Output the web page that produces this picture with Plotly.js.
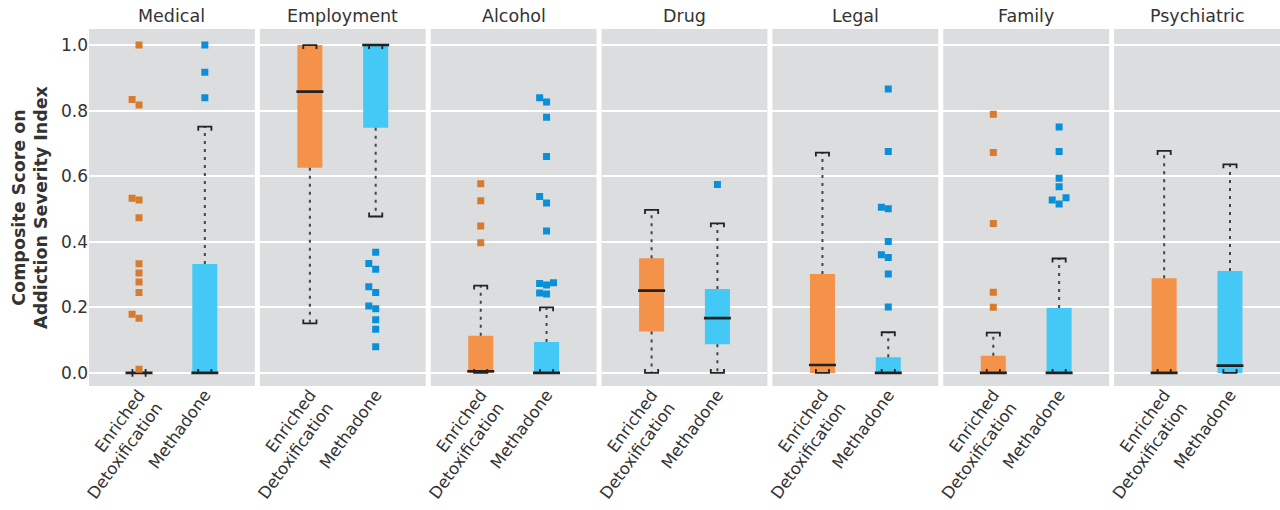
<!DOCTYPE html>
<html><head><meta charset="utf-8">
<script src="https://cdn.plot.ly/plotly-3.0.1.min.js"></script>
<style>html,body{margin:0;padding:0;background:#fff}#chart{width:1280px;height:510px}</style>
</head><body><div id="chart"></div>
<script>
// ---------- data ----------
const panels = ["Medical","Employment","Alcohol","Drug","Legal","Family","Psychiatric"];
const groupLabels = ["Enriched<br>Detoxification","Methadone"];

// Enriched Detoxification box statistics (one value per panel)
const enrLower  = [0,     0.151, 0,     0,     0,     0,     0];
const enrQ1     = [0,     0.626, 0,     0.126, 0,     0,     0];
const enrMedian = [0,     0.858, 0.005, 0.251, 0.024, 0,     0];
const enrQ3     = [0,     1.0,   0.113, 0.350, 0.302, 0.052, 0.289];
const enrUpper  = [0,     1.0,   0.266, 0.497, 0.672, 0.123, 0.677];

// Methadone box statistics
const metLower  = [0,     0.477, 0,     0,      0,     0,     0];
const metQ1     = [0,     0.748, 0,     0.0875, 0,     0,     0];
const metMedian = [0,     1.0,   0,     0.167,  0,     0,     0.022];
const metQ3     = [0.332, 1.0,   0.094, 0.256,  0.048, 0.198, 0.311];
const metUpper  = [0.751, 1.0,   0.200, 0.456,  0.124, 0.349, 0.636];

// Outliers
const enrOutliers = [
  [1.0, 0.834, 0.817, 0.533, 0.527, 0.473, 0.333, 0.305, 0.277, 0.245, 0.179, 0.167, 0.011],
  [],
  [0.577, 0.525, 0.448, 0.397],
  [],
  [],
  [0.789, 0.672, 0.456, 0.246, 0.200],
  []
];
const metOutliers = [
  [1.0, 0.917, 0.839],
  [0.368, 0.334, 0.316, 0.263, 0.245, 0.204, 0.196, 0.162, 0.133, 0.080],
  [0.839, 0.826, 0.780, 0.660, 0.538, 0.518, 0.433, 0.275, 0.273, 0.268, 0.244, 0.241],
  [0.575],
  [0.866, 0.675, 0.505, 0.501, 0.401, 0.360, 0.352, 0.302, 0.201],
  [0.750, 0.675, 0.594, 0.568, 0.534, 0.527, 0.515],
  []
];

// ---------- styling ----------
const boxColors = ["#f5924a", "#44c8f5"];
const pointColors = ["#d97b2c", "#0a90d8"];
const FONT = "DejaVu Sans";
const TXT = "#333333";
const BOXW = 0.38, CAPW = 0.1, MEDW = 0.205, TICKH = 0.012;
const STEP = 0.105, MINDY = 0.022;

function swarm(vals, cx) {
  const sorted = vals.slice().sort((a,b)=>a-b);
  const placed = [];
  const cands = [0,-1,1,-2,2,-3,3];
  for (const v of sorted) {
    for (const c of cands) {
      const x = cx + c*STEP;
      const clash = placed.some(p => Math.abs(p.x - x) < STEP*0.9 && Math.abs(p.y - v) < MINDY);
      if (!clash) { placed.push({x:x, y:v}); break; }
    }
  }
  return placed;
}

const traces = [];
const layout = {
  width: 1280, height: 510,
  margin: {l: 89, r: 0, t: 29, b: 124},
  paper_bgcolor: "#ffffff",
  plot_bgcolor: "#dcdddf",
  showlegend: false,
  font: {family: FONT, size: 17, color: TXT},
  annotations: []
};

const PW = 166, GAP = 5, TOTAL = 7*PW + 6*GAP;

panels.forEach((name, i) => {
  const s = i === 0 ? "" : String(i+1);
  const xa = "x" + s, ya = "y" + s;
  const stats = [
    {lo: enrLower[i], q1: enrQ1[i], med: enrMedian[i], q3: enrQ3[i], hi: enrUpper[i], out: enrOutliers[i]},
    {lo: metLower[i], q1: metQ1[i], med: metMedian[i], q3: metQ3[i], hi: metUpper[i], out: metOutliers[i]}
  ];
  // boxes
  traces.push({
    type: "bar", xaxis: xa, yaxis: ya,
    x: [0, 1], base: stats.map(d => d.q1), y: stats.map(d => d.q3 - d.q1),
    width: BOXW, marker: {color: boxColors, line: {width: 0}}, hoverinfo: "skip"
  });
  // whiskers
  const wx = [], wy = [];
  stats.forEach((d, g) => {
    if (d.hi > d.q3) { wx.push(g, g, null); wy.push(d.q3, d.hi, null); }
    if (d.lo < d.q1) { wx.push(g, g, null); wy.push(d.q1, d.lo, null); }
  });
  traces.push({
    type: "scatter", mode: "lines", xaxis: xa, yaxis: ya, x: wx, y: wy,
    line: {color: "#444", width: 2, dash: "3px,5px"}, hoverinfo: "skip"
  });
  // caps
  const cx = [], cy = [];
  stats.forEach((d, g) => {
    cx.push(g-CAPW, g-CAPW, g+CAPW, g+CAPW, null);
    cy.push(d.hi - TICKH, d.hi, d.hi, d.hi - TICKH, null);
    cx.push(g-CAPW, g-CAPW, g+CAPW, g+CAPW, null);
    cy.push(d.lo + TICKH, d.lo, d.lo, d.lo + TICKH, null);
  });
  traces.push({
    type: "scatter", mode: "lines", xaxis: xa, yaxis: ya, x: cx, y: cy,
    line: {color: "#222", width: 1.8}, hoverinfo: "skip"
  });
  // medians
  const mx = [], my = [];
  stats.forEach((d, g) => { mx.push(g-MEDW, g+MEDW, null); my.push(d.med, d.med, null); });
  traces.push({
    type: "scatter", mode: "lines", xaxis: xa, yaxis: ya, x: mx, y: my,
    line: {color: "#222", width: 2.6}, hoverinfo: "skip"
  });
  // outliers
  stats.forEach((d, g) => {
    if (!d.out.length) return;
    const pts = swarm(d.out, g);
    traces.push({
      type: "scatter", mode: "markers", xaxis: xa, yaxis: ya,
      x: pts.map(p => p.x), y: pts.map(p => p.y),
      marker: {symbol: "square", size: 7, color: pointColors[g], line: {width: 0}},
      hoverinfo: "skip"
    });
  });

  const x0 = i*(PW+GAP)/TOTAL, x1 = (i*(PW+GAP)+PW)/TOTAL;
  layout["xaxis" + s] = {
    domain: [x0, Math.min(x1, 1)], anchor: ya,
    range: [-0.76, 1.76], tickvals: [0, 1], ticktext: groupLabels,
    tickangle: -54, showgrid: false, zeroline: false, showline: false, ticks: "",
    ticklabelstandoff: -5,
    tickfont: {family: FONT, size: 16.5, color: TXT}, fixedrange: true
  };
  const yax = {
    domain: [0, 1], anchor: xa, range: [-0.04, 1.049],
    tickvals: [0, 0.2, 0.4, 0.6, 0.8, 1.0], tickformat: ".1f",
    showgrid: true, gridcolor: "#ffffff", gridwidth: 1.8,
    zeroline: false, showline: false, ticks: "",
    showticklabels: i === 0,
    tickfont: {family: FONT, size: 17, color: TXT}, fixedrange: true
  };
  if (i === 0) {
    yax.title = {text: "<b>Composite Score on<br>Addiction Severity Index</b>",
                 font: {family: FONT, size: 17.5, color: TXT}, standoff: 8};
  } else {
    yax.matches = "y";
  }
  layout["yaxis" + s] = yax;
  layout.annotations.push({
    text: name, xref: xa + " domain", x: 0.5, yref: "paper", y: 1,
    yanchor: "bottom", xanchor: "center", yshift: 1, showarrow: false,
    font: {family: FONT, size: 17.5, color: TXT}
  });
});

Plotly.newPlot("chart", traces, layout, {displayModeBar: false, staticPlot: true});
</script>
</body></html>
